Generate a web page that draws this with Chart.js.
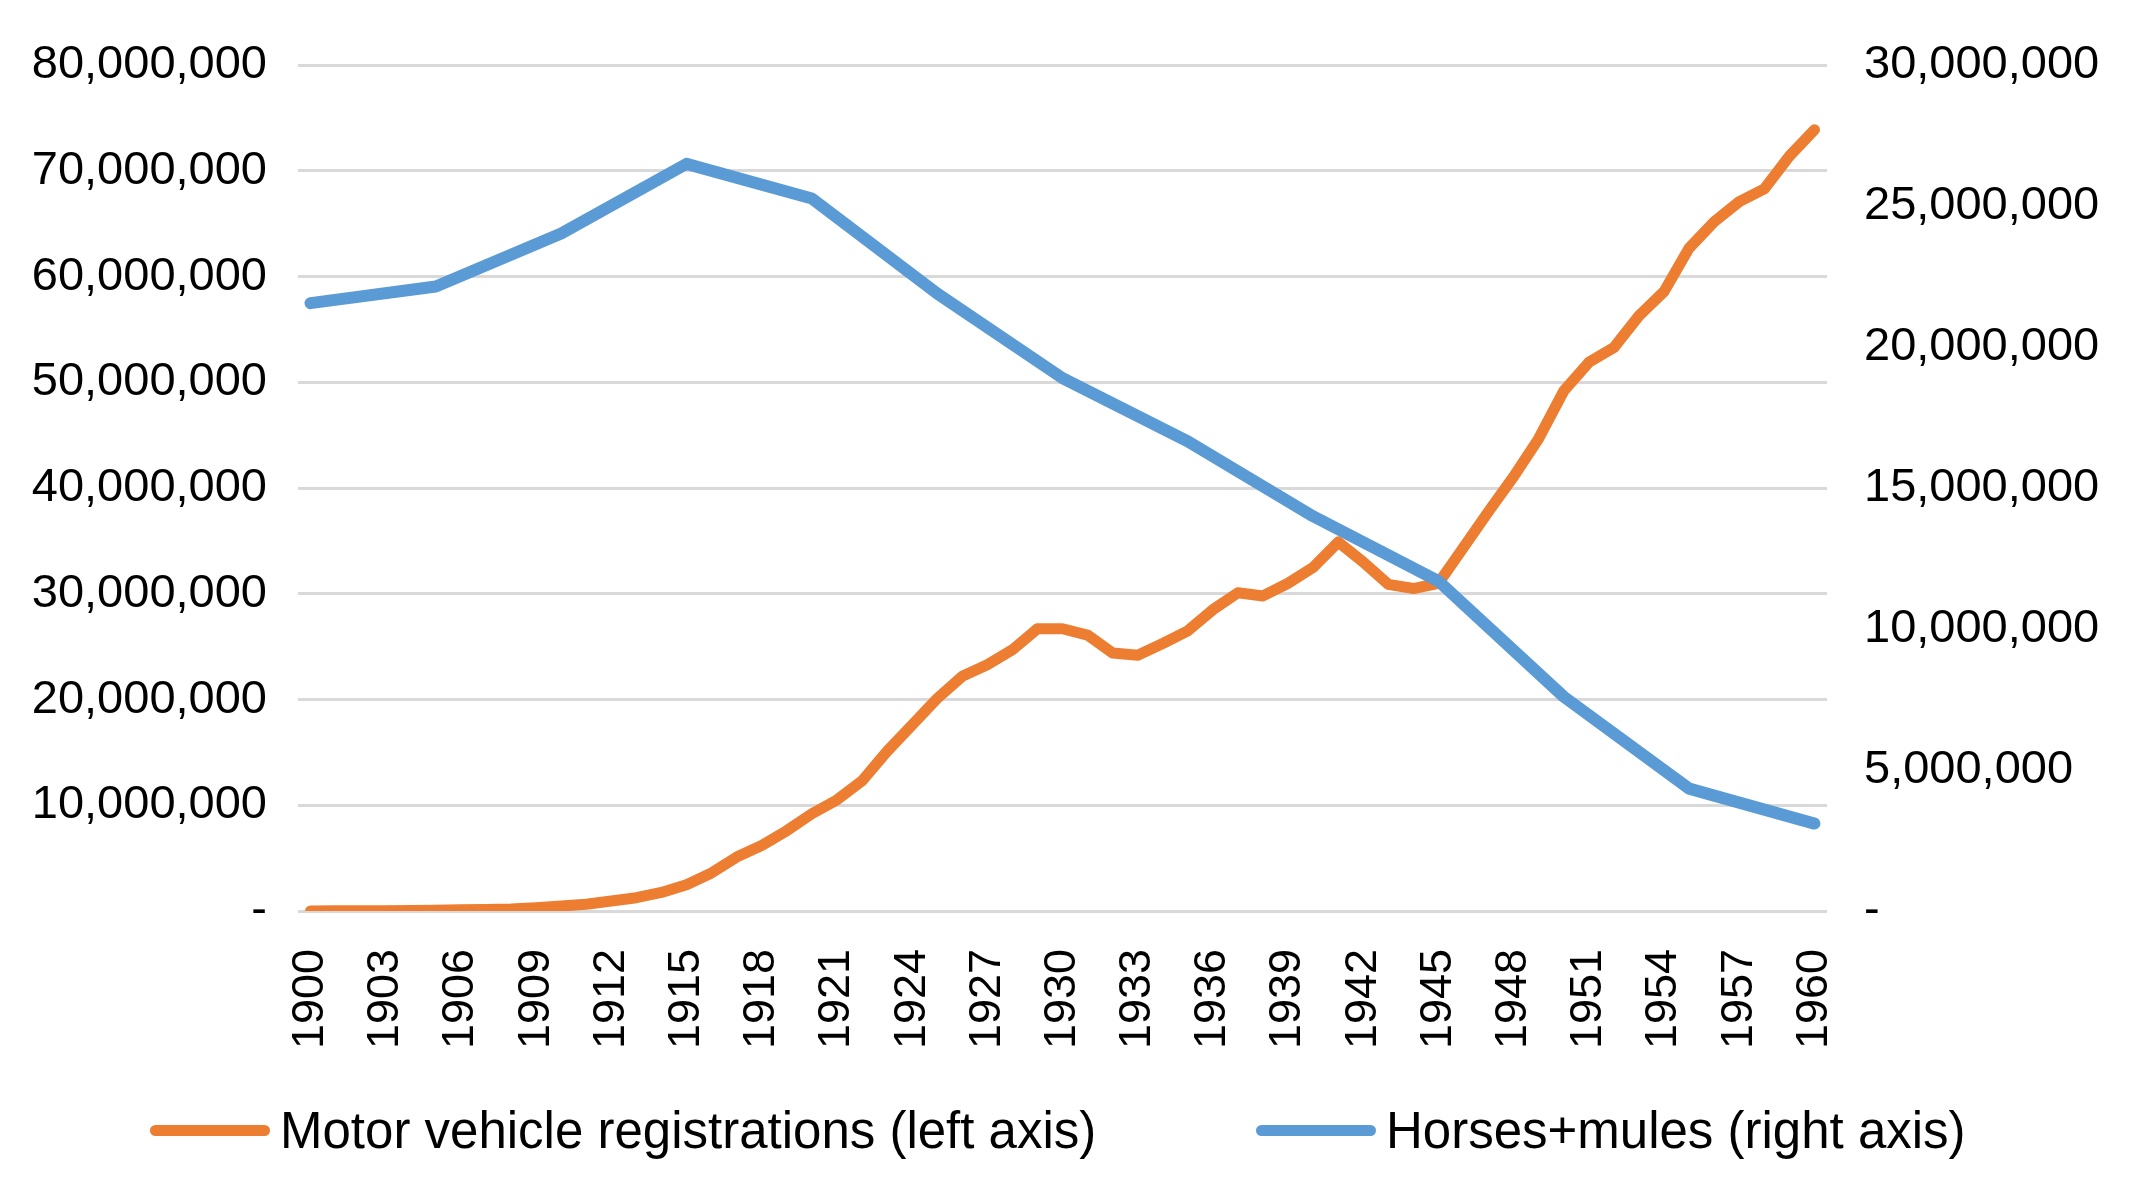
<!DOCTYPE html>
<html>
<head>
<meta charset="utf-8">
<script src="https://cdn.jsdelivr.net/npm/chart.js@4.4.1/dist/chart.umd.min.js"></script>
<style>
    html, body { margin: 0; padding: 0; background: #fff; }
    #wrap { position: relative; width: 2134px; height: 1194px; }
    #legend {
        position: absolute; top: 1102px; left: 0; width: 2134px; height: 56px;
        font: 51px 'Liberation Sans', Arial, sans-serif; color: #000;
    }
    .item { position: absolute; top: 0; height: 56px; display: flex; align-items: center; white-space: nowrap; }
    .swatch { width: 120px; height: 11px; border-radius: 6px; margin-right: 10px; }
</style>
</head>
<body>
<div id="wrap">
    <canvas id="chart" width="2134" height="1194"></canvas>
    <div id="legend">
        <div class="item" style="left:150px"><span class="swatch" style="background:#ED7D31"></span>Motor vehicle registrations (left axis)</div>
        <div class="item" style="left:1256px"><span class="swatch" style="background:#5B9BD5"></span>Horses+mules (right axis)</div>
    </div>
</div>
<script>
// Categories: one per year
const years = [
    '1900', '1901', '1902', '1903', '1904', '1905', '1906', '1907', '1908', '1909',
    '1910', '1911', '1912', '1913', '1914', '1915', '1916', '1917', '1918', '1919',
    '1920', '1921', '1922', '1923', '1924', '1925', '1926', '1927', '1928', '1929',
    '1930', '1931', '1932', '1933', '1934', '1935', '1936', '1937', '1938', '1939',
    '1940', '1941', '1942', '1943', '1944', '1945', '1946', '1947', '1948', '1949',
    '1950', '1951', '1952', '1953', '1954', '1955', '1956', '1957', '1958', '1959',
    '1960'
];

// Motor vehicle registrations (left axis), one value per year
const motorVehicles = [
    8000, 15000, 23000, 33000, 55000, 78000, 108000, 140000, 198000, 312000,
    468000, 640000, 944000, 1258000, 1760000, 2490000, 3600000, 5100000, 6200000, 7600000,
    9200000, 10500000, 12300000, 15100000, 17600000, 20100000, 22200000, 23300000, 24700000, 26700000,
    26700000, 26100000, 24400000, 24200000, 25300000, 26500000, 28500000, 30100000, 29800000, 31000000,
    32500000, 34900000, 33000000, 30900000, 30500000, 31000000, 34400000, 37800000, 41100000, 44700000,
    49200000, 51900000, 53300000, 56300000, 58600000, 62700000, 65200000, 67100000, 68300000, 71400000,
    73900000
];

// Horses + mules (right axis), every five years
const horseYears = ['1900', '1905', '1910', '1915', '1920', '1925', '1930', '1935', '1940', '1945', '1950', '1955', '1960'];
const horsesMules = [21560000, 22150000, 24030000, 26500000, 25270000, 21900000, 18900000, 16660000, 14000000, 11700000, 7600000, 4340000, 3100000];

// Tick values
const leftTicks = [0, 10000000, 20000000, 30000000, 40000000, 50000000, 60000000, 70000000, 80000000];
const rightTicks = [0, 5000000, 10000000, 15000000, 20000000, 25000000, 30000000];

const FONT = "'Liberation Sans', Arial, sans-serif";
Chart.defaults.font.family = FONT;
Chart.defaults.color = '#000';

const fmt = v => v === 0 ? '-' : v.toLocaleString('en-US');

new Chart(document.getElementById('chart'), {
    type: 'line',
    data: {
        labels: years,
        datasets: [
            {
                label: 'Motor vehicle registrations (left axis)',
                data: motorVehicles,
                yAxisID: 'y',
                borderColor: '#ED7D31',
                borderWidth: 11,
                borderCapStyle: 'round',
                borderJoinStyle: 'round',
                pointRadius: 0,
                tension: 0,
                order: 2
            },
            {
                label: 'Horses+mules (right axis)',
                data: horseYears.map((y, i) => ({ x: y, y: horsesMules[i] })),
                yAxisID: 'y2',
                borderColor: '#5B9BD5',
                borderWidth: 12,
                borderCapStyle: 'round',
                borderJoinStyle: 'round',
                pointRadius: 0,
                tension: 0,
                spanGaps: true,
                order: 1
            }
        ]
    },
    options: {
        responsive: false,
        animation: false,
        devicePixelRatio: 1,
        layout: { padding: { top: 63, right: 0, bottom: 91, left: 0 } },
        plugins: {
            legend: { display: false },
            tooltip: { enabled: false }
        },
        scales: {
            x: {
                offset: true,
                grid: { display: false },
                border: { display: false },
                ticks: {
                    autoSkip: false,
                    maxRotation: 90,
                    minRotation: 90,
                    padding: 30,
                    font: { size: 45 },
                    callback: (v, i) => i % 3 === 0 ? years[i] : ''
                },
                afterFit: s => { s.height = 192; }
            },
            y: {
                position: 'left',
                min: 0,
                max: 80000000,
                grid: { color: '#d9d9d9', lineWidth: 3, drawTicks: false },
                border: { display: false },
                afterBuildTicks: s => { s.ticks = leftTicks.map(v => ({ value: v })); },
                ticks: { padding: 31, font: { size: 47 }, callback: fmt },
                afterFit: s => { s.width = 298; }
            },
            y2: {
                position: 'right',
                min: 0,
                max: 30000000,
                grid: { display: false, drawTicks: false },
                border: { display: false },
                afterBuildTicks: s => { s.ticks = rightTicks.map(v => ({ value: v })); },
                ticks: { padding: 37, font: { size: 47 }, callback: fmt },
                afterFit: s => { s.width = 307; }
            }
        }
    }
});
</script>
</body>
</html>
